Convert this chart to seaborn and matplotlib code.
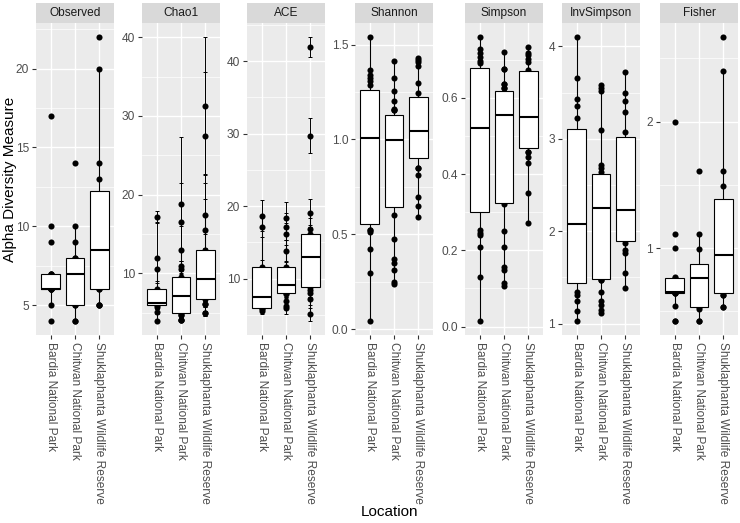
import matplotlib
matplotlib.use("Agg")
import matplotlib.pyplot as plt
import seaborn as sns
import pandas as pd
from matplotlib.ticker import MultipleLocator, FormatStrFormatter

plt.rcParams['font.family'] = ['Liberation Sans', 'DejaVu Sans']

locations = ["Bardia National Park", "Chitwan National Park", "Shuklaphanta Wildlife Reserve"]
measures = ["Observed", "Chao1", "ACE", "Shannon", "Simpson", "InvSimpson", "Fisher"]

observed_bardia = [4, 5, 6, 6, 6, 6, 6, 7, 7, 7, 9, 10, 17]
observed_chitwan = [4, 4, 5, 5, 6, 7, 7, 7, 8, 8, 9, 10, 14]
observed_shukla = [5, 5, 5, 6, 6, 7, 8, 9, 10, 10, 13, 14, 20, 22]

chao1_bardia = [3.95, 5.1, 5.7, 6.0, 6.05, 6.1, 6.2, 6.8, 7.4, 8.0, 10.5, 11.9, 17.2]
chao1_bardia_se = [0, 0.3, 0.3, 0.4, 0.3, 0.3, 0.4, 0.5, 0.6, 0.8, 1.5, 4.5, 0.7]
chao1_chitwan = [4.0, 4.0, 4.0, 4.7, 4.7, 5.0, 5.5, 6.0, 6.5, 7.0, 7.1, 7.5, 8.0, 8.5, 9.0, 9.5,
                 10.5, 10.9, 13.0, 16.5, 18.8]
chao1_chitwan_se = [0, 0, 0, 0.3, 0.3, 0.4, 0.4, 0.5, 0.5, 0.5, 0.6, 0.6, 0.7, 0.8, 0.9, 1.0,
                    1.0, 2.0, 3.0, 5.0, 8.5]
chao1_shukla = [4.9, 4.9, 6.1, 6.1, 6.7, 7.5, 8.0, 8.8, 9.3, 10.0, 11.0, 12.0, 13.0, 15.5, 17.4, 27.5, 31.3]
chao1_shukla_se = [0.3, 0.3, 0.4, 0.4, 0.5, 0.5, 0.6, 0.7, 0.8, 0.9, 1.0, 1.2, 2.0, 6.0, 5.1, 8.1, 8.7]

ace_bardia = [5.5, 5.8, 6.0, 6.8, 7.5, 9.5, 11.65, 17.2, 18.7]
ace_bardia_se = [0.3, 0.4, 0.5, 0.5, 0.5, 0.8, 1.0, 1.5, 2.1]
ace_chitwan = [6.0, 6.3, 6.9, 7.9, 8.0, 8.3, 8.7, 9.0, 9.2, 9.8, 10.5, 11.0, 11.6, 13.8, 16.2, 17.2, 18.4]
ace_chitwan_se = [0.9, 0.5, 0.6, 0.5, 0.5, 0.5, 0.6, 0.6, 0.6, 0.7, 0.8, 0.8, 0.9, 1.5, 1.5, 1.8, 2.2]
ace_shukla = [5.1, 7.2, 8.1, 8.5, 8.85, 10.0, 11.0, 12.0, 13.0, 14.0, 15.0, 15.8, 16.2, 16.9, 19.1, 29.7, 41.9]
ace_shukla_se = [0.9, 0.8, 0.6, 0.5, 0.5, 0.6, 0.7, 0.8, 0.9, 1.0, 1.0, 1.1, 1.2, 1.5, 1.9, 2.4, 1.4]

shannon_bardia = [0.044, 0.298, 0.421, 0.514, 0.523, 0.523, 0.583, 0.68, 0.78, 0.88, 0.95, 1.005,
                  1.06, 1.12, 1.17, 1.21, 1.236, 1.286, 1.307, 1.325, 1.339, 1.365, 1.539]
shannon_chitwan = [0.240, 0.249, 0.312, 0.351, 0.368, 0.474, 0.600, 0.688, 0.75, 0.82, 0.88, 0.93,
                   0.97, 0.998, 1.02, 1.04, 1.06, 1.08, 1.09, 1.102, 1.154, 1.154, 1.161, 1.202,
                   1.254, 1.323, 1.416]
shannon_shukla = [0.593, 0.649, 0.698, 0.814, 0.849, 0.849, 0.955, 0.97, 0.99, 1.01, 1.03, 1.044,
                  1.07, 1.10, 1.14, 1.18, 1.204, 1.246, 1.295, 1.389, 1.407, 1.418, 1.430]

simpson_bardia = [0.015, 0.130, 0.209, 0.239, 0.246, 0.253, 0.347, 0.39, 0.43, 0.47, 0.50, 0.521,
                  0.56, 0.60, 0.63, 0.65, 0.666, 0.692, 0.696, 0.707, 0.718, 0.728, 0.759]
simpson_chitwan = [0.107, 0.114, 0.148, 0.157, 0.209, 0.251, 0.321, 0.327, 0.37, 0.42, 0.47, 0.51,
                   0.54, 0.554, 0.565, 0.575, 0.585, 0.595, 0.60, 0.608, 0.626, 0.626, 0.635, 0.635,
                   0.676, 0.676, 0.720]
simpson_shukla = [0.271, 0.349, 0.428, 0.445, 0.459, 0.459, 0.479, 0.49, 0.505, 0.52, 0.535, 0.549,
                  0.57, 0.60, 0.63, 0.65, 0.666, 0.674, 0.694, 0.703, 0.712, 0.718, 0.734]

invsimpson_bardia = [1.03, 1.14, 1.24, 1.31, 1.34, 1.54, 1.65, 1.80, 1.95, 2.08, 2.30, 2.55, 2.80,
                     2.99, 3.23, 3.36, 3.43, 3.66, 4.10]
invsimpson_chitwan = [1.12, 1.15, 1.20, 1.24, 1.34, 1.47, 1.47, 1.49, 1.65, 1.80, 1.95, 2.05, 2.15,
                      2.25, 2.35, 2.42, 2.48, 2.53, 2.57, 2.60, 2.64, 2.68, 2.72, 3.09, 3.52, 3.55, 3.58]
invsimpson_shukla = [1.39, 1.55, 1.76, 1.80, 1.87, 1.91, 1.98, 2.07, 2.16, 2.23, 2.40, 2.60, 2.80,
                     2.97, 3.07, 3.29, 3.41, 3.50, 3.72]

fisher_bardia = [0.426, 0.426, 0.54, 0.645, 0.645, 0.648, 0.65, 0.653, 0.655, 0.68, 0.71, 0.74,
                 0.765, 0.774, 1.0, 1.116, 2.0]
fisher_chitwan = [0.426, 0.426, 0.518, 0.537, 0.65, 0.76, 0.776, 0.80, 0.835, 0.99, 1.116, 1.611]
fisher_shukla = [0.539, 0.539, 0.634, 0.634, 0.656, 0.75, 0.85, 0.945, 1.05, 1.18, 1.282, 1.492,
                 1.611, 2.400, 2.668]

# ---- build long table ----
groups = [
    ("Observed", [observed_bardia, observed_chitwan, observed_shukla], None),
    ("Chao1", [chao1_bardia, chao1_chitwan, chao1_shukla], [chao1_bardia_se, chao1_chitwan_se, chao1_shukla_se]),
    ("ACE", [ace_bardia, ace_chitwan, ace_shukla], [ace_bardia_se, ace_chitwan_se, ace_shukla_se]),
    ("Shannon", [shannon_bardia, shannon_chitwan, shannon_shukla], None),
    ("Simpson", [simpson_bardia, simpson_chitwan, simpson_shukla], None),
    ("InvSimpson", [invsimpson_bardia, invsimpson_chitwan, invsimpson_shukla], None),
    ("Fisher", [fisher_bardia, fisher_chitwan, fisher_shukla], None),
]
rows = []
for m, vals_list, se_list in groups:
    for i, loc in enumerate(locations):
        vals = vals_list[i]
        ses = se_list[i] if se_list is not None else [0.0] * len(vals)
        for v, s in zip(vals, ses):
            rows.append({"variable": m, "Location": loc, "value": v, "se": s,
                         "has_se": se_list is not None})
df = pd.DataFrame(rows)

# ---- layout (pixels) ----
W, H = 740, 523
fig = plt.figure(figsize=(W / 100, H / 100), dpi=100)
lefts = [36, 142, 247, 355, 465, 562, 660]
pw = 78
ptop, pbot, stop = 23, 335, 3
major = {"Observed": 5, "Chao1": 10, "ACE": 10, "Shannon": 0.5, "Simpson": 0.2, "InvSimpson": 1, "Fisher": 1}
fmt = {"Shannon": "%.1f", "Simpson": "%.1f"}

for m, left in zip(measures, lefts):
    sub = df[df["variable"] == m]
    ax = fig.add_axes([left / W, 1 - pbot / H, pw / W, (pbot - ptop) / H])
    ax.set_facecolor("#EBEBEB")
    ax.set_axisbelow(True)
    sns.stripplot(data=sub, x="Location", y="value", order=locations, jitter=False,
                  color="black", size=4.4, linewidth=0, ax=ax, zorder=1.5)
    if sub["has_se"].iloc[0]:
        xpos = sub["Location"].map({l: i for i, l in enumerate(locations)})
        ax.errorbar(xpos, sub["value"], yerr=sub["se"], fmt="none", ecolor="black",
                    elinewidth=0.7, capsize=1.6, capthick=0.7, zorder=1.6)
    sns.boxplot(data=sub, x="Location", y="value", order=locations, color="white",
                linecolor="black", linewidth=0.8, width=0.75, showfliers=False,
                showcaps=False, ax=ax,
                boxprops=dict(zorder=2), whiskerprops=dict(zorder=2),
                medianprops=dict(linewidth=1.5, zorder=2.2))
    lo = (sub["value"] - sub["se"]).min()
    hi = (sub["value"] + sub["se"]).max()
    pad = 0.05 * (hi - lo)
    ax.set_ylim(lo - pad, hi + pad)
    ax.set_xlim(-0.6, 2.6)
    ax.yaxis.set_major_locator(MultipleLocator(major[m]))
    ax.yaxis.set_minor_locator(MultipleLocator(major[m] / 2))
    ax.yaxis.set_major_formatter(FormatStrFormatter(fmt.get(m, "%g")))
    ax.grid(True, which="major", color="white", linewidth=1.0)
    ax.grid(True, which="minor", axis="y", color="white", linewidth=0.5)
    ax.xaxis.grid(True, which="major", color="white", linewidth=1.0)
    for s in ax.spines.values():
        s.set_visible(False)
    ax.tick_params(axis="both", which="major", length=3, width=0.8, color="#333333",
                   labelcolor="#4D4D4D", labelsize=8.6, pad=2)
    ax.tick_params(axis="y", which="minor", length=0)
    ax.set_xlabel("")
    ax.set_ylabel("")
    ax.set_xticks(range(len(locations)))
    ax.set_xticklabels(locations, rotation=270, ha="center", va="top")
    # strip
    sax = fig.add_axes([left / W, 1 - ptop / H, pw / W, (ptop - stop) / H])
    sax.set_facecolor("#D9D9D9")
    sax.set_xticks([])
    sax.set_yticks([])
    for s in sax.spines.values():
        s.set_visible(False)
    sax.text(0.5, 0.5, m, ha="center", va="center", fontsize=8.6, color="#1A1A1A",
             transform=sax.transAxes)

fig.text(10 / W, 1 - 179 / H, "Alpha Diversity Measure", rotation=90, ha="center",
         va="center", fontsize=11, color="black")
fig.text(390 / W, 1 - 512 / H, "Location", ha="center", va="center", fontsize=11, color="black")

fig.savefig("out.png", dpi=100, facecolor="white")
